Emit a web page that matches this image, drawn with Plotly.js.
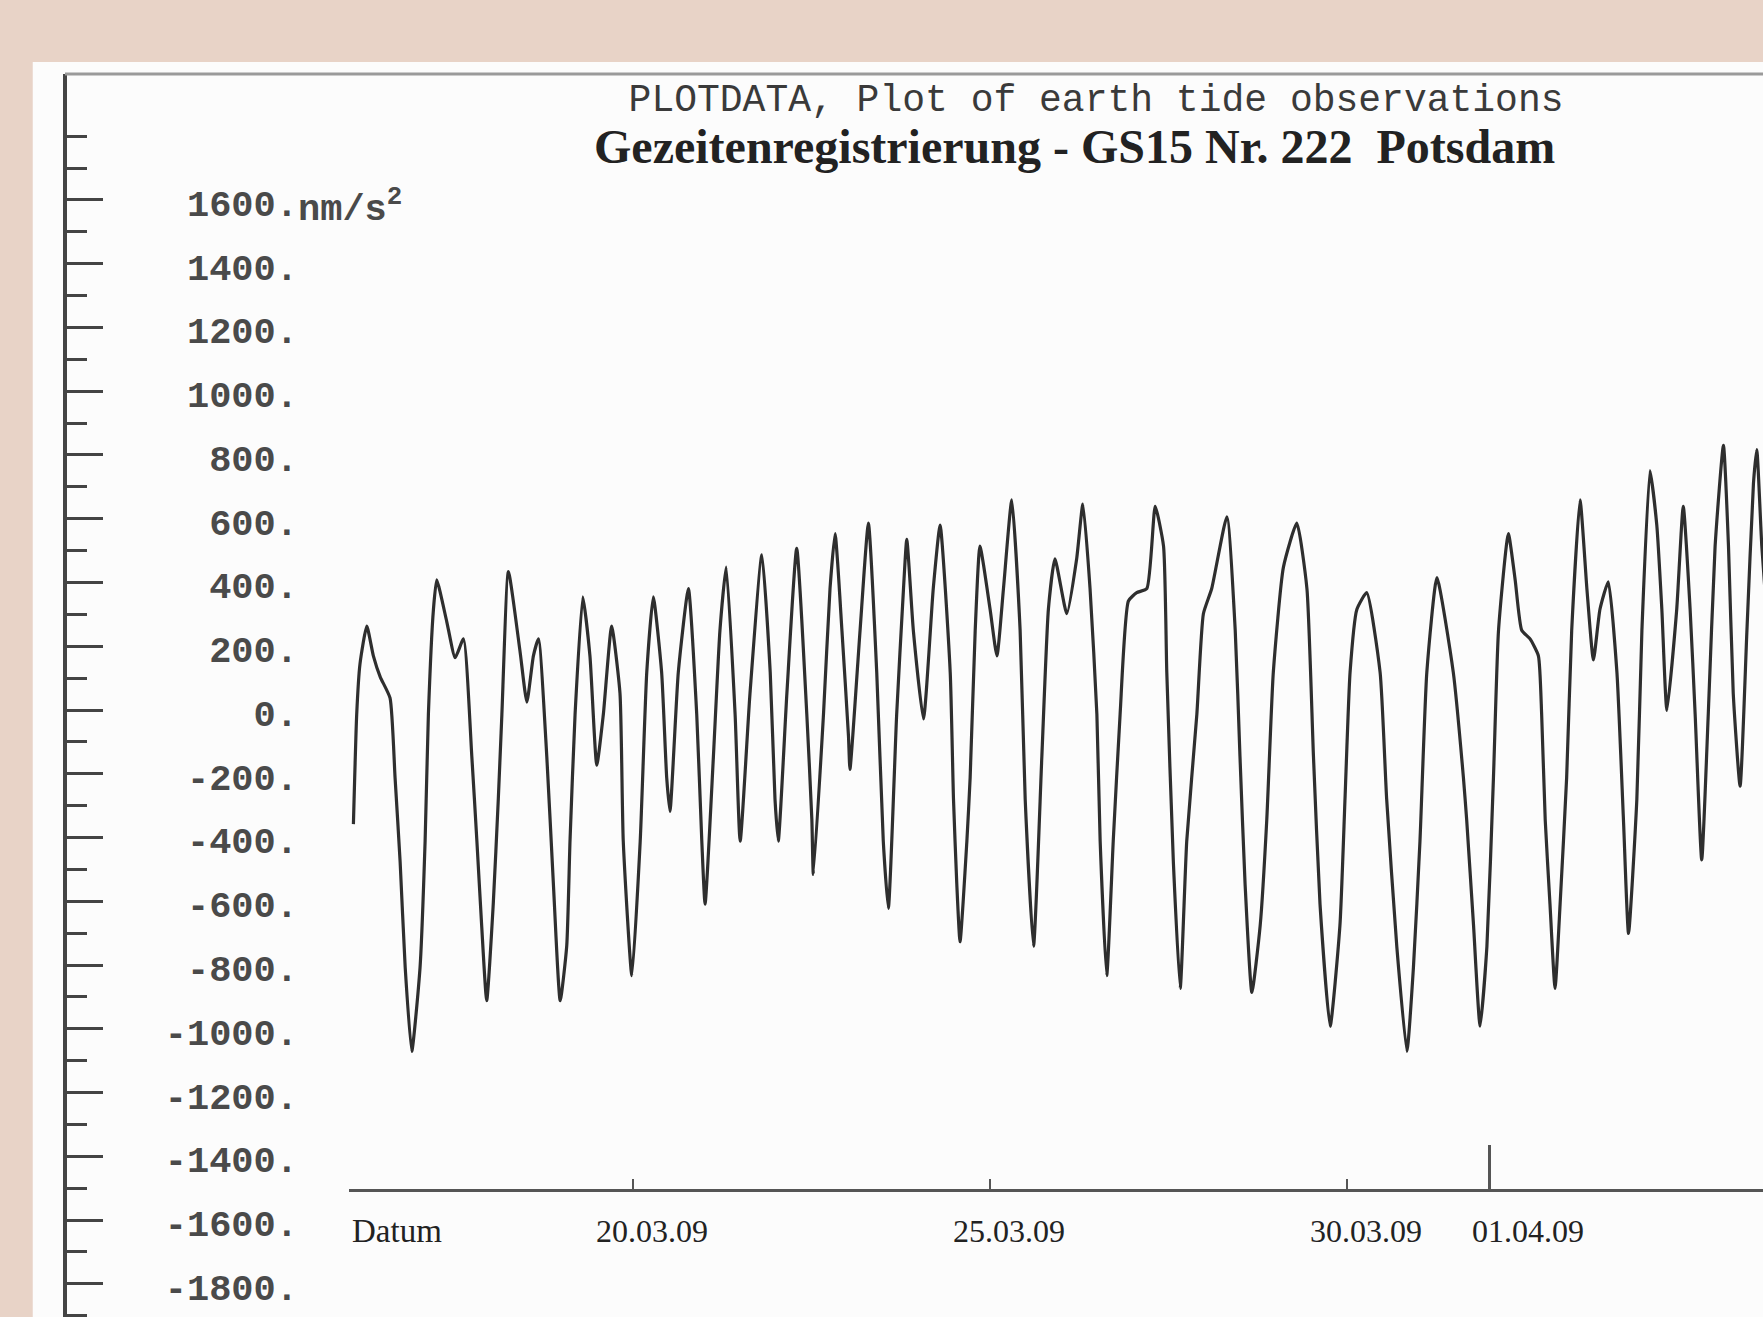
<!DOCTYPE html>
<html>
<head>
<meta charset="utf-8">
<script src="https://cdn.plot.ly/plotly-3.0.1.min.js"></script>
<style>html,body{margin:0;padding:0;background:#e8d3c7;}#chart{width:1763px;height:1317px;}</style>
</head>
<body>
<div id="chart"></div>
<script>
// Observation time, hours after 16.03.09 00:00
const obsHours = [
  2.0, 3.1, 4.2, 6.5, 8.7, 11.0, 14.3, 16.0, 17.7, 19.4,
  21.6, 24.4, 26.1, 27.2, 28.9, 30.0, 33.4, 36.2, 39.0, 41.8,
  43.5, 45.1, 46.8, 49.0, 50.7, 51.9, 54.1, 58.0, 60.3, 62.5,
  64.2, 67.0, 69.2, 71.5, 73.7, 74.8, 76.5, 79.1, 81.5, 83.8,
  86.0, 88.8, 91.6, 92.7, 95.6, 98.4, 100.6, 102.8, 105.6, 107.3,
  108.4, 111.2, 114.6, 117.4, 119.1, 120.2, 123.0, 125.2, 127.3, 130.3,
  132.0, 135.3, 139.3, 142.1, 143.7, 144.8, 147.7, 151.0, 154.4, 156.1,
  156.6, 160.0, 162.2, 163.9, 166.2, 168.4, 168.9, 172.3, 175.1, 177.9,
  180.1, 181.8, 184.6, 186.9, 188.0, 190.2, 193.6, 196.9, 199.2, 202.6,
  203.7, 204.8, 205.9, 208.2, 209.3, 211.0, 212.6, 216.0, 218.3, 220.5,
  223.3, 226.1, 227.8, 230.6, 233.4, 235.6, 237.8, 241.8, 245.1, 247.2,
  249.6, 251.9, 253.0, 255.2, 257.4, 259.7, 262.5, 265.3, 268.7, 271.5,
  274.3, 275.4, 277.6, 279.9, 282.1, 285.5, 287.7, 290.5, 295.6, 298.4,
  300.0, 301.7, 304.0, 306.8, 309.0, 311.2, 314.6, 319.1, 322.5, 324.7,
  326.9, 330.3, 333.6, 335.3, 337.0, 339.3, 342.6, 347.1, 349.3, 352.7,
  356.1, 358.3, 360.5, 362.8, 366.2, 371.7, 375.1, 376.2, 378.5, 380.7,
  383.0, 385.2, 386.9, 390.2, 392.5, 394.7, 397.5, 400.3, 401.4, 402.6,
  404.2, 405.9, 407.6, 409.8, 411.5, 414.3, 416.6, 418.8, 421.0, 423.8,
  426.7, 428.9, 430.6, 433.4, 435.1, 437.8, 440.1, 441.8, 443.5, 446.8,
  449.0, 451.3, 453.0, 455.2, 457.4, 459.7, 462.5, 464.2, 465.8, 468.1,
  470.4, 472.6, 473.7, 475.4, 478.2
];
// Tidal gravity signal, nm/s^2
const tideValues = [
  -358, -14, 144, 263, 170, 104, 38, -212, -476, -807,
  -1071, -807, -411, -14, 316, 408, 276, 164, 223, -146,
  -411, -675, -912, -609, -279, -14, 434, 184, 25, 170,
  223, -146, -543, -912, -740, -411, -14, 355, 170, -173,
  -14, 263, 52, -411, -833, -411, 118, 355, 118, -212,
  -318, 118, 381, -14, -411, -609, -146, 250, 448, -14,
  -411, 52, 487, 118, -279, -411, 52, 507, -14, -345,
  -516, -14, 381, 553, 250, -81, -186, 250, 586, 118,
  -411, -622, -14, 381, 535, 250, -28, 381, 580, 118,
  -279, -543, -727, -411, -212, 250, 514, 316, 170, 381,
  659, 250, -279, -741, -146, 316, 474, 302, 474, 646,
  381, -14, -411, -833, -411, -14, 342, 368, 381, 639,
  514, 118, -476, -873, -411, -14, 302, 381, 606, 250,
  -146, -543, -886, -675, -345, 118, 448, 586, 381, -146,
  -609, -992, -675, -279, 118, 316, 368, 118, -279, -741,
  -1071, -807, -411, 118, 415, 118, -212, -345, -675, -992,
  -741, -212, 250, 553, 408, 250, 223, 170, -14, -345,
  -609, -873, -609, -212, 250, 659, 381, 157, 316, 402,
  118, -345, -701, -279, 250, 751, 580, 316, -1, 316,
  639, 316, -14, -470, -14, 514, 830, 514, 52, -239,
  250, 712, 817, 514, 150
];
// Date axis ticks (hours after 16.03.09 00:00)
const dateTickHours = [96, 216, 336];
const dateTickLabels = ['20.03.09', '25.03.09', '30.03.09'];
const monthTickHours = [384];
const monthTickLabels = ['01.04.09'];
// Gravity axis ticks
const yMajorTicks = [-1800, -1600, -1400, -1200, -1000, -800, -600, -400, -200, 0, 200, 400, 600, 800, 1000, 1200, 1400, 1600];
const yTickLabels = ['-1800.', '-1600.', '-1400.', '-1200.', '-1000.', '-800.', '-600.', '-400.', '-200.', '0.', '200.', '400.', '600.', '800.', '1000.', '1200.', '1400.', '1600.'];
const yMinorTicks = [-1900, -1700, -1500, -1300, -1100, -900, -700, -500, -300, -100, 100, 300, 500, 700, 900, 1100, 1300, 1500, 1700, 1800];

const xRange = [0.54, 475.8];
const yRange = [-1904, 1995];
const axisPos = 0.1022;
const dateFont = {family: 'Liberation Serif', size: 32, color: '#222'};

const traces = [
  {type: 'scatter', mode: 'lines', x: obsHours, y: tideValues, xaxis: 'x', yaxis: 'y',
   line: {color: '#2e2e2e', width: 3.2, shape: 'spline', smoothing: 0.5}, hoverinfo: 'skip', name: 'GS15 Nr. 222'},
  {type: 'scatter', mode: 'lines', x: obsHours, y: tideValues, xaxis: 'x', yaxis: 'y2',
   opacity: 0, line: {width: 1}, hoverinfo: 'skip', showlegend: false},
  {type: 'scatter', mode: 'lines', x: obsHours, y: tideValues, xaxis: 'x2', yaxis: 'y',
   opacity: 0, line: {width: 1}, hoverinfo: 'skip', showlegend: false}
];

const layout = {
  width: 1763, height: 1317,
  paper_bgcolor: '#e8d3c7', plot_bgcolor: '#fcfcfc',
  margin: {l: 65, r: 0, t: 74, b: 0, pad: 0},
  showlegend: false,
  hovermode: false,
  title: {
    text: 'PLOTDATA, Plot of earth tide observations',
    font: {family: 'Liberation Mono', size: 38, color: '#3a3a3a'},
    x: 0.6217, xanchor: 'center', y: 0.9256, yanchor: 'middle', xref: 'container', yref: 'container'
  },
  xaxis: {
    domain: [0.1673, 1], range: xRange, anchor: 'free', position: axisPos,
    showgrid: false, zeroline: false, showline: true, linecolor: '#555', linewidth: 3,
    ticks: 'inside', ticklen: 10, tickwidth: 2, tickcolor: '#555',
    tickmode: 'array', tickvals: dateTickHours, ticktext: dateTickLabels,
    tickfont: dateFont, ticklabelstandoff: 12, ticklabelshift: 19
  },
  xaxis2: {
    overlaying: 'x', range: xRange, anchor: 'free', position: axisPos,
    showgrid: false, zeroline: false, showline: false,
    ticks: 'inside', ticklen: 45, tickwidth: 3, tickcolor: '#555',
    tickmode: 'array', tickvals: monthTickHours, ticktext: monthTickLabels,
    tickfont: dateFont, ticklabelstandoff: 19, ticklabelshift: 38
  },
  yaxis: {
    range: yRange, anchor: 'free', position: 0.1372, side: 'left',
    showgrid: false, zeroline: false, showline: false, ticks: '',
    tickmode: 'array', tickvals: yMajorTicks, ticktext: yTickLabels,
    tickfont: {family: 'Liberation Mono', size: 37, color: '#4a4a4a', weight: 'bold'},
    ticklabelshift: 3
  },
  yaxis2: {
    overlaying: 'y', range: yRange, anchor: 'free', position: 0, side: 'left',
    showgrid: false, zeroline: false, showline: true, linecolor: '#444', linewidth: 4,
    ticks: 'inside', ticklen: 36, tickwidth: 3, tickcolor: '#444',
    tickmode: 'array', tickvals: yMajorTicks, showticklabels: false,
    minor: {tickmode: 'array', tickvals: yMinorTicks, ticks: 'inside', ticklen: 20, tickwidth: 3, tickcolor: '#444'}
  },
  shapes: [
    {type: 'rect', xref: 'paper', yref: 'paper', x0: -0.019, x1: 1.01, y0: -0.01, y1: 1.0097,
     fillcolor: '#fcfcfc', line: {width: 0}, layer: 'below'},
    {type: 'line', xref: 'paper', yref: 'paper', x0: 0, x1: 1, y0: 1, y1: 1,
     line: {color: '#9a9a9a', width: 3}}
  ],
  annotations: [
    {text: 'Gezeitenregistrierung - GS15 Nr. 222&nbsp; Potsdam', xref: 'paper', yref: 'paper',
     x: 0.5948, y: 0.942, xanchor: 'center', yanchor: 'middle', showarrow: false,
     font: {family: 'Liberation Serif', size: 48, color: '#222', weight: 'bold'}},
    {text: 'nm/s<sup>2</sup>', xref: 'paper', yref: 'paper',
     x: 0.136, y: 0.8938, xanchor: 'left', yanchor: 'middle', showarrow: false,
     font: {family: 'Liberation Mono', size: 37, color: '#4a4a4a', weight: 'bold'}},
    {text: 'Datum', xref: 'paper', yref: 'paper',
     x: 0.1955, y: 0.0692, xanchor: 'center', yanchor: 'middle', showarrow: false,
     font: {family: 'Liberation Serif', size: 33, color: '#222'}}
  ]
};

Plotly.newPlot('chart', traces, layout, {displayModeBar: false, staticPlot: true});
</script>
</body>
</html>
